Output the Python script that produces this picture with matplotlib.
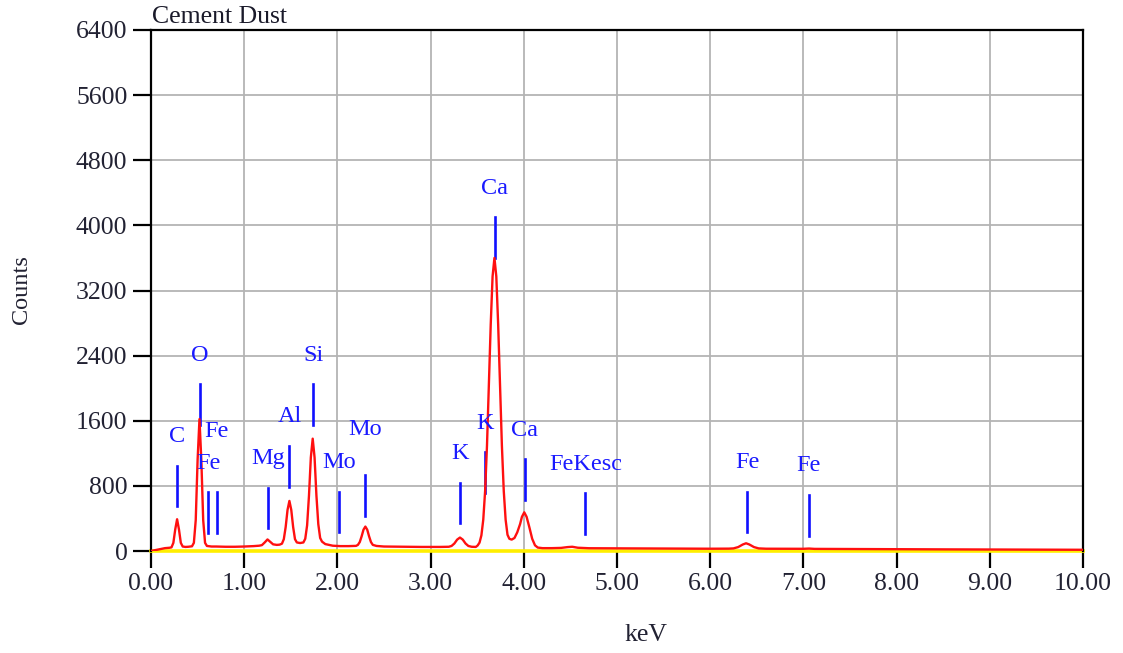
import matplotlib
matplotlib.use("Agg")
import matplotlib.pyplot as plt

# ---- spectrum (keV, counts) ----
energy = [0.00, 0.05, 0.10, 0.15, 0.20, 0.22, 0.24, 0.26, 0.28, 0.30, 0.32, 0.34,
          0.37, 0.40, 0.44, 0.46, 0.48, 0.50, 0.52, 0.54, 0.56, 0.58, 0.60, 0.65,
          0.70, 0.80, 0.90, 1.00, 1.10, 1.16, 1.19, 1.22, 1.25, 1.28, 1.31, 1.35,
          1.38, 1.405, 1.425, 1.445, 1.465, 1.485, 1.505, 1.525, 1.545, 1.565, 1.60,
          1.635, 1.655, 1.675, 1.695, 1.715, 1.735, 1.755, 1.775, 1.795, 1.815, 1.835,
          1.87, 1.95, 2.03, 2.12, 2.20, 2.22, 2.24, 2.26, 2.28, 2.30, 2.32, 2.34,
          2.36, 2.38, 2.42, 2.50, 2.70, 2.90, 3.10, 3.195, 3.225, 3.255, 3.285, 3.315,
          3.345, 3.375, 3.405, 3.44, 3.485, 3.505, 3.525, 3.545, 3.565, 3.585, 3.605,
          3.625, 3.645, 3.665, 3.685, 3.705, 3.725, 3.745, 3.765, 3.785, 3.805, 3.825,
          3.845, 3.87, 3.90, 3.93, 3.96, 3.98, 4.005, 4.03, 4.06, 4.09, 4.12, 4.15,
          4.20, 4.30, 4.40, 4.47, 4.52, 4.58, 4.70, 4.90, 5.20, 5.60, 6.00, 6.20,
          6.25, 6.30, 6.35, 6.385, 6.42, 6.47, 6.52, 6.60, 6.80, 7.00, 7.06, 7.12,
          7.50, 8.00, 8.50, 9.00, 9.50, 10.00]
counts = [0, 12, 25, 35, 40, 45, 100, 265, 390, 265, 100, 55,
          50, 52, 58, 100, 380, 1120, 1620, 1120, 380, 100, 62, 55,
          55, 52, 52, 55, 60, 65, 72, 105, 142, 112, 82, 75,
          78, 90, 145, 295, 505, 615, 505, 295, 145, 105, 98,
          105, 150, 315, 680, 1150, 1380, 1150, 680, 330, 160, 115,
          85, 65, 60, 60, 63, 75, 110, 180, 262, 300, 262, 180,
          110, 75, 62, 55, 52, 50, 50, 52, 62, 92, 140, 165,
          140, 92, 62, 52, 50, 68, 103, 192, 384, 737, 1293,
          2017, 2780, 3373, 3600, 3373, 2780, 2017, 1293, 737, 384, 200,
          150, 140, 160, 230, 330, 420, 475, 420, 290, 150, 70, 42,
          35, 35, 38, 48, 52, 40, 34, 33, 31, 30, 28, 29,
          32, 48, 80, 95, 80, 48, 32, 28, 27, 27, 30, 26,
          24, 22, 20, 18, 16, 15]

# ---- element markers ----
marker_labels = ["C", "O", "Fe", "Fe", "Mg", "Al", "Si", "Mo", "Mo", "K", "K",
                 "Ca", "Ca", "FeKesc", "Fe", "Fe"]
marker_energy = [0.277, 0.525, 0.615, 0.705, 1.253, 1.486, 1.739, 2.016, 2.293,
                 3.312, 3.589, 3.690, 4.012, 4.66, 6.398, 7.057]
marker_bottom = [550, 1550, 220, 220, 280, 790, 1550, 230, 430, 340, 710,
                 3600, 630, 210, 230, 190]
marker_length = 500
label_extra_lift = [0, 0, 0, 32, 0, 0, 0, 0, 17, 0, 0, 0, 0, 0, 0, 0]  # px

x_ticks = [0, 1, 2, 3, 4, 5, 6, 7, 8, 9, 10]
y_ticks = [0, 800, 1600, 2400, 3200, 4000, 4800, 5600, 6400]

plt.rcParams['font.family'] = ['Liberation Serif', 'DejaVu Serif']

W, H = 1123, 653
fig = plt.figure(figsize=(W / 100, H / 100), dpi=100)
ax = fig.add_axes([151 / W, 1 - 551 / H, (1083 - 151) / W, (551 - 30) / H])

ax.set_xlim(0, 10)
ax.set_ylim(0, 6400)
ax.set_xticks(x_ticks)
ax.set_yticks(y_ticks)
ax.set_xticklabels([f"{t:.2f}" for t in x_ticks])
ax.set_yticklabels([str(t) for t in y_ticks])
ax.grid(True, color='#b4b4b4', lw=1.3, zorder=0)
ax.set_axisbelow(True)

ax.tick_params(axis='both', direction='out', length=12, width=1.6, color='black',
               labelsize=18.5, labelcolor='#222233', pad=4)
ax.tick_params(axis='y', length=13)

for s in ['left', 'top', 'right']:
    ax.spines[s].set_linewidth(1.6)
    ax.spines[s].set_color('black')
ax.spines['bottom'].set_visible(False)

ax.axhline(0, color='#ffee00', lw=2.6, zorder=2, clip_on=False)

# markers
for lab, e, b, lift in zip(marker_labels, marker_energy, marker_bottom, label_extra_lift):
    ax.plot([e, e], [b, b + marker_length], color='#1010ff', lw=1.9, zorder=3)
    ax.annotate(lab, (e, b + marker_length), xytext=(0, (29 + lift) * 0.72),
                textcoords='offset points', ha='center', va='center',
                color='#1a1aff', fontsize=17.5, zorder=5)

ax.plot(energy, counts, color='#ff1010', lw=1.7, zorder=4)

fig.text(152 / W, 1 - 17 / H, "Cement Dust", ha='left', va='center',
         fontsize=18.5, color='#1a1a2a')
fig.text(646 / W, 1 - 635 / H, "keV", ha='center', va='center',
         fontsize=18.5, color='#222233')
fig.text(22 / W, 1 - 290 / H, "Counts", ha='center', va='center', rotation=90,
         fontsize=17.5, color='#222233')

fig.savefig("out.png", dpi=100)
